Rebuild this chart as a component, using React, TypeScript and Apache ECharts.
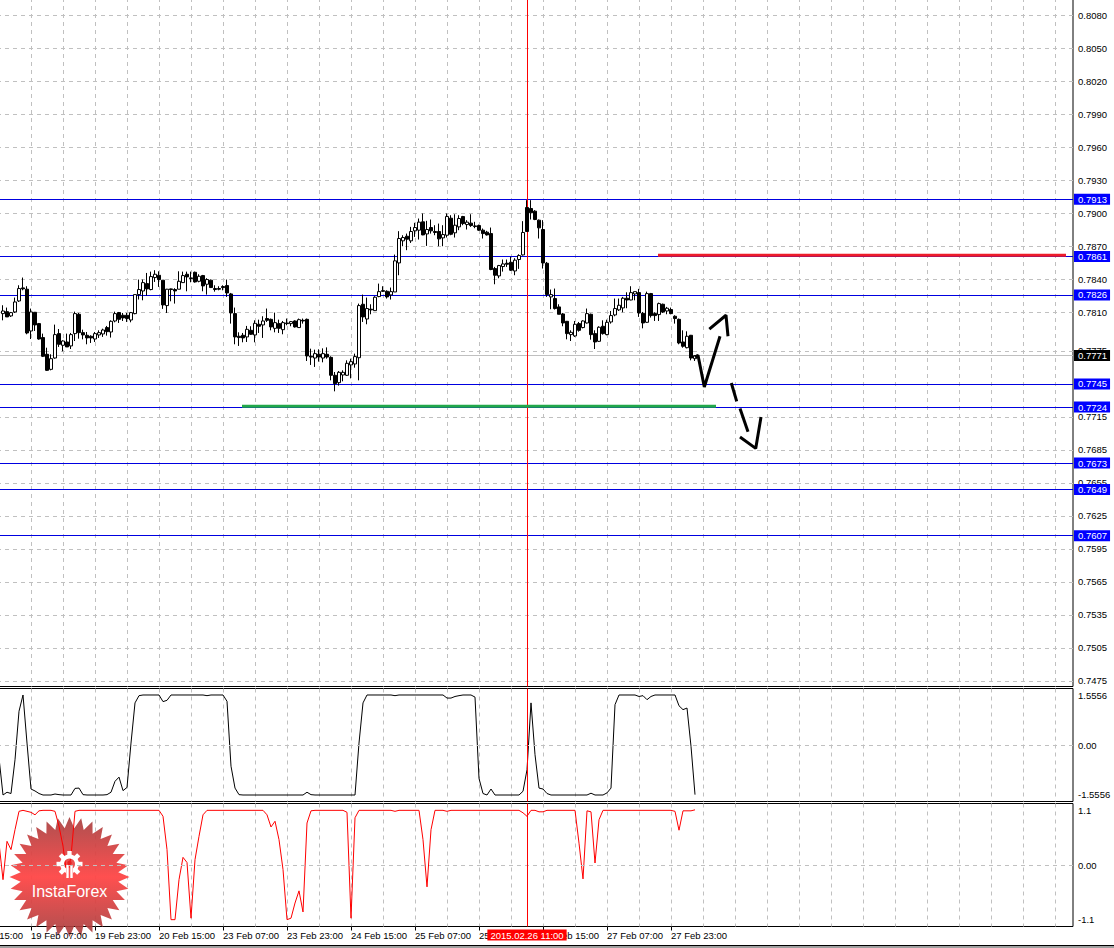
import React, { useEffect, useRef } from "react";
import * as echarts from "echarts";

// candles: [open, close, low, high], one per hourly bar
const barsA = [
  [.7809,.78114,.78029,.78166],[.78108,.7806,.7806,.78145],[.78069,.78099,.7806,.78105],[.78105,.78196,.78096,.78236],
  [.78205,.78318,.78196,.78348],[.78324,.78315,.78302,.78418],[.78312,.77914,.77902,.78339],[.77932,.78105,.77859,.78136],
  [.78102,.77987,.77932,.78105],[.77999,.77859,.77853,.78005],[.77872,.77702,.77695,.77908],[.7772,.77574,.77568,.7778],
  [.77583,.7768,.77574,.7772],[.77686,.77899,.7768,.7799],[.77908,.77811,.77787,.7795],[.77802,.77841,.77747,.77847],
  [.77832,.77787,.77787,.77908],[.77796,.77899,.77768,.77914],[.77908,.7809,.77841,.78108],[.78084,.77917,.77862,.78096],
  [.77917,.77896,.77856,.77944],[.77893,.77869,.77811,.77923],[.77884,.77869,.77823,.77893],[.77859,.77908,.77832,.77923],
  [.77896,.77917,.77869,.77938],[.77905,.77941,.77878,.77953],[.77963,.77926,.7789,.77978],[.77923,.7802,.77872,.78029],
  [.78023,.7809,.78011,.78108],[.78099,.78038,.78005,.78105],[.78075,.78051,.78023,.78096],[.78075,.78045,.78014,.78096],
  [.78032,.78099,.78011,.78105],[.7809,.78263,.78084,.78263],[.78263,.78309,.78218,.784],[.78296,.78372,.78211,.784],
];
const barsB = [
  [.78363,.78315,.78254,.7846],[.78309,.78427,.78302,.78472],[.78418,.78448,.78378,.78485],[.78439,.784,.78333,.78475],
  [.78394,.78169,.78133,.78394],[.78163,.78312,.78096,.78315],[.78315,.78309,.78202,.78318],[.78309,.78296,.78181,.78321],
  [.78312,.78384,.78312,.78475],[.78372,.78436,.78369,.78472],[.78448,.78424,.78293,.78472],[.78415,.78409,.78375,.78472],
  [.78466,.78378,.78372,.78472],[.78384,.7843,.78375,.78448],[.78436,.78342,.78293,.78442],[.78357,.784,.78263,.78412],
  [.78394,.78327,.78324,.784],[.78318,.78309,.7829,.78348],[.78318,.78312,.78302,.78339],[.78336,.78327,.78302,.78348],
  [.78345,.78278,.78242,.784],[.78269,.78096,.77999,.78278],[.7809,.77878,.77811,.78145],[.77884,.77872,.77796,.7792],
  [.77893,.77869,.77829,.77914],[.77878,.77947,.77832,.77978],[.77938,.77902,.77896,.77975],[.77896,.78002,.77829,.78029],
  [.77993,.77975,.77914,.78035],[.77987,.78023,.77869,.78066],[.78045,.78029,.78014,.78136],[.78038,.77969,.77938,.78045],
  [.77956,.78008,.7792,.78099],[.77999,.77956,.77914,.78035],[.77944,.78008,.77902,.78023],[.78005,.77999,.77984,.78045],
];
const barsC = [
  [.77999,.78017,.77975,.78023],[.78023,.77969,.77963,.78029],[.77963,.78035,.7796,.78045],[.78029,.78023,.77999,.78045],
  [.78038,.77705,.77659,.78045],[.77702,.77695,.77623,.77771],[.77686,.77726,.77605,.77762],[.7772,.77695,.77653,.77765],
  [.77686,.77726,.77647,.77774],[.7772,.77695,.7768,.77783],[.77692,.77529,.77483,.77702],[.77529,.77453,.77383,.77559],
  [.77462,.77556,.77435,.77568],[.77532,.77556,.77474,.77574],[.77529,.77638,.77523,.77665],[.77623,.77653,.77501,.7768],
  [.77632,.77699,.77598,.77726],[.77689,.78163,.77483,.78181],[.78175,.7806,.78014,.78263],[.78041,.78136,.77993,.78236],
  [.7813,.78124,.78084,.78175],[.78117,.78239,.78114,.78248],[.78245,.7829,.78239,.78363],[.78299,.78293,.78287,.78339],
  [.78293,.78242,.78227,.78302],[.7826,.7829,.78218,.78327],[.78287,.7857,.78287,.78627],[.78551,.78773,.78439,.7884],
  [.78752,.78782,.78703,.78803],[.78794,.78767,.78667,.78818],[.78752,.78837,.78733,.78879],[.78843,.78873,.78788,.78916],
  [.78849,.78922,.78764,.78955],[.78925,.78806,.78803,.79001],[.78815,.78855,.78706,.78934],[.78873,.78843,.78818,.78946],
];
const barsD = [
  [.78837,.78828,.78803,.78894],[.78837,.7877,.78703,.78909],[.78779,.78809,.78703,.78894],[.78803,.78973,.78782,.79001],
  [.78958,.78812,.78803,.78985],[.78825,.78894,.78782,.78994],[.78879,.78955,.78849,.78985],[.78973,.78909,.78894,.78979],
  [.789,.78922,.78855,.7894],[.78913,.78891,.78879,.78994],[.78888,.78882,.78867,.78925],[.78891,.78849,.78843,.789],
  [.78849,.78818,.78773,.78864],[.78831,.78806,.788,.78843],[.78818,.78491,.78485,.78873],[.785,.78439,.78357,.78515],
  [.78433,.78527,.78412,.78533],[.78518,.78542,.78472,.78582],[.78548,.78539,.78515,.78582],[.78557,.78485,.78478,.78606],
  [.78478,.78576,.78439,.78594],[.78582,.78618,.78497,.7863],[.78624,.78828,.78618,.78931],[.79055,.78837,.78834,.79122],
  [.79046,.79007,.78946,.79122],[.79022,.78946,.7894,.79031],[.7894,.7887,.78773,.78946],[.78855,.78551,.785,.7894],
  [.78548,.78263,.78242,.7856],[.78242,.78263,.7813,.78309],[.78227,.78136,.78127,.78318],[.78151,.78084,.78084,.78175],
  [.78087,.78005,.77975,.78096],[.7802,.77908,.77856,.78023],[.77899,.7792,.77841,.77938],[.77887,.77993,.77878,.78023],
];
const barsE = [
  [.77999,.77938,.77926,.78014],[.77963,.78023,.77956,.78029],[.78005,.7809,.77999,.78136],[.78084,.77899,.77853,.7809],
  [.77908,.77832,.77768,.77938],[.77838,.77966,.77832,.77975],[.77975,.77908,.77899,.78029],[.77899,.78011,.77893,.78035],
  [.78014,.78072,.77999,.78114],[.78078,.78136,.78066,.78227],[.78124,.78166,.78114,.78227],[.78142,.7823,.78102,.78242],
  [.7823,.78214,.78139,.78284],[.78214,.78281,.78211,.78339],[.78269,.7829,.78211,.7829],[.78281,.78096,.7806,.78315],
  [.78093,.78005,.77956,.78105],[.78011,.78272,.78005,.7829],[.78272,.78072,.78054,.78278],[.7809,.78072,.78023,.78102],
  [.78081,.78181,.78023,.7819],[.78175,.78105,.78096,.78181],[.78114,.78139,.78084,.78151],[.78127,.7809,.78084,.78145],
  [.78066,.78045,.77999,.78075],[.78038,.77823,.77811,.78045],[.77832,.77793,.7778,.77938],[.7778,.77884,.77774,.77929],
  [.77893,.77686,.77665,.77896],[.7768,.77708,.77659,.77711],
];

const upper1 = [-0.4,-1.556,-1.47,-1.51,-0.46,1.05,1.556,0.06,-1.37,-1.43,-1.51,-1.556,-1.556,-1.556,-1.525,-1.545];
const upper2 = [-1.556,-1.556,-1.556,-1.35,-1.34,-1.545,-1.556,-1.556,-1.556,-1.556,-1.556,-1.545,-1.47,-1.13,-1.0,-1.42];
const upper3 = [-1.32,0.06,1.31,1.535,1.556,1.556,1.556,1.556,1.556,1.35,1.39,1.556,1.556,1.556,1.556,1.556];
const upper4 = [1.556,1.556,1.556,1.556,1.535,1.556,1.556,1.556,1.556,1.36,-0.66,-1.34,-1.545,-1.556,-1.556,-1.556];
const upper5 = [-1.556,-1.556,-1.556,-1.556,-1.556,-1.556,-1.556,-1.556,-1.556,-1.556,-1.556,-1.556,-1.556,-1.47,-1.545,-1.556];
const upper6 = [-1.556,-1.556,-1.556,-1.556,-1.556,-1.556,-1.556,-1.556,-1.556,-1.556,0.06,1.31,1.556,1.556,1.556,1.556];
const upper7 = [1.556,1.556,1.556,1.535,1.556,1.556,1.556,1.556,1.556,1.556,1.556,1.556,1.556,1.556,1.556,1.556];
const upper8 = [1.46,1.46,1.51,1.535,1.556,1.556,1.556,1.49,-1.04,-1.51,-1.556,-1.37,-1.556,-1.556,-1.556,-1.556];
const upper9 = [-1.556,-1.556,-1.556,-1.44,-0.77,1.31,-0.3,-1.34,-1.37,-1.51,-1.556,-1.556,-1.556,-1.556,-1.556,-1.556];
const upper10 = [-1.556,-1.556,-1.556,-1.556,-1.5,-1.556,-1.556,-1.556,-1.49,-1.34,1.255,1.556,1.556,1.556,1.556,1.556];
const upper11 = [1.51,1.535,1.41,1.51,1.556,1.556,1.556,1.556,1.556,1.556,1.22,1.1,1.15,-0.04,-1.545];

const lower1 = [0.44,-0.295,0.476,0.31,0.71,1.08,1.1,1.08,1.06,1.01,1.09,1.1,1.1,1.1,1.08,0.78];
const lower2 = [0.38,-0.23,0.17,1.08,1.1,1.1,1.1,1.1,1.1,1.1,1.1,1.1,1.1,1.1,1.1,1.1];
const lower3 = [1.1,1.1,1.1,1.1,1.1,1.1,1.1,1.1,1.1,0.98,0.31,-1.1,-1.1,-0.295,0.154,0.05];
const lower4 = [-1.07,0.107,0.577,1.01,1.1,1.1,1.1,1.1,1.1,1.1,1.1,1.1,1.1,1.1,1.1,1.1];
const lower5 = [1.1,1.1,1.1,1.01,0.765,0.88,0.51,-0.09,-1.1,-1.07,-0.765,-0.52,-0.945,0.845,1.09,1.1];
const lower6 = [1.1,1.1,1.1,1.1,1.1,1.1,1.1,1.06,-1.07,0.95,1.1,1.1,1.1,1.1,1.1,1.1];
const lower7 = [1.1,1.1,1.1,1.08,1.1,1.1,1.1,1.1,1.1,1.1,0.51,-0.44,0.71,1.1,1.1,1.1];
const lower8 = [1.08,1.1,1.1,1.1,1.1,1.1,1.1,1.1,1.1,1.1,1.1,1.1,1.1,1.1,1.1,1.1];
const lower9 = [1.1,1.1,1.1,1.05,0.98,1.1,1.1,1.07,1.07,1.1,1.1,1.1,1.1,1.1,1.1,1.1];
const lower10 = [1.1,0.44,-0.28,1.09,1.07,0.04,0.91,1.1,1.1,1.1,1.1,1.1,1.1,1.1,1.1,1.1];
const lower11 = [1.1,1.1,1.1,1.1,1.1,1.1,1.1,1.1,1.1,1.08,0.7,1.09,1.09,1.09,1.11];

const priceTicks = [0.808,0.805,0.802,0.799,0.796,0.793,0.79,0.787,0.784,0.781,0.7775,0.7745,0.7715,0.7685,0.7655,0.7625,0.7595,0.7565,0.7535,0.7505,0.7475];
const upperTicks = [-1.5556,0,1.5556];
const lowerTicks = [-1.1,0,1.1];
const blueLevels = [0.7913,0.7861,0.7826,0.7745,0.7724,0.7673,0.7649,0.7607];
const timeLabels = ["18 Feb 15:00","19 Feb 07:00","19 Feb 23:00","20 Feb 15:00","23 Feb 07:00","23 Feb 23:00","24 Feb 15:00","25 Feb 07:00","25 Feb 23:00","26 Feb 15:00","27 Feb 07:00","27 Feb 23:00"];
const gridBars = [0,8,16,24,32,40,48,56,64,72,80,88,96,104,112,120,128,136,144,152,160,168,176,184,192,200,208,216,224,232,240,248,256,264,272];
const labelBars = [0,16,32,48,64,80,96,112,128,144,160,176];

const lastPrice = 0.7771;
const crosshairBar = 140;
const crosshairLabel = "2015.02.26 11:00";
const redSegment = [[172.75,0.7862],[274.75,0.7862]];
const greenSegment = [[68.75,0.77247],[187.25,0.77247]];
const arrowA = [[182,0.77693],[182.75,0.77711],[184.33,0.77422],[188.25,0.77884]];
const arrowB = [[185.58,0.77948],[189.75,0.78075],[190.25,0.77884]];
const dashA = [[191.08,0.77459],[192.43,0.77292]];
const dashB = [[193.25,0.77226],[195.25,0.77016]];
const arrowC = [[193.25,0.76967],[197.18,0.76864],[198.5,0.77149]];

const FONT = "Liberation Sans";
const GRID_GREY = "#c0c0c0";
const DASH = [4, 4];

function makeGraphics() {
  const cx = 69.5, cy = 877, spikes = 32;
  const pts: number[][] = [];
  for (let i = 0; i < spikes * 2; i++) {
    const r = i % 2 === 0 ? 60 : 49;
    const a = (Math.PI * i) / spikes - Math.PI / 2;
    pts.push([cx + r * Math.cos(a), cy + r * Math.sin(a)]);
  }
  const gx = 69.5, gy = 864;
  const teeth: any[] = [];
  for (let i = 0; i < 8; i++) {
    if (i === 4) continue;
    teeth.push({
      type: "rect", x: gx, y: gy, originX: 0, originY: 0, rotation: (-i * Math.PI) / 4,
      shape: { x: -2.2, y: -13, width: 4.4, height: 5 }, style: { fill: "#fff" }, z: 6,
    });
  }
  return [
    {
      type: "polygon", z: 1, silent: true,
      shape: { points: pts },
      style: {
        fill: { type: "linear", x: 0, y: 0, x2: 0, y2: 1, colorStops: [
          { offset: 0, color: "rgba(165,60,60,0.9)" },
          { offset: 0.5, color: "rgba(255,70,70,0.95)" },
          { offset: 1, color: "rgba(165,60,60,0.9)" },
        ] },
      },
    },
    { type: "ring", z: 6, shape: { cx: gx, cy: gy, r: 9.5, r0: 5.5 }, style: { fill: "#fff" } },
    { type: "rect", z: 6, shape: { x: gx - 3.5, y: gy + 4, width: 7, height: 6 }, style: { fill: "#ff5050" } },
    { type: "circle", z: 7, shape: { cx: gx, cy: gy - 1, r: 2.2 }, style: { fill: "#e82020" } },
    { type: "rect", z: 7, shape: { x: gx - 3.2, y: gy + 1, width: 2.4, height: 13 }, style: { fill: "#fff" } },
    { type: "rect", z: 7, shape: { x: gx + 0.8, y: gy + 1, width: 2.4, height: 13 }, style: { fill: "#fff" } },
    ...teeth,
    { type: "text", z: 7, x: 69.5, y: 891, style: { text: "InstaForex", fill: "#fff", font: `16px "${FONT}"`, align: "center", verticalAlign: "middle" } },
    { type: "rect", z: 8, shape: { x: 0, y: 946, width: 1114, height: 2 }, style: { fill: "#a0a0a0" } },
    { type: "line", z: 8, shape: { x1: 0, y1: 945.5, x2: 1114, y2: 945.5 }, style: { stroke: "#000", lineWidth: 1 } },
  ];
}

function guideX(gridIndex: number) {
  return {
    type: "value", gridIndex, min: -0.5, max: 276.5, position: "bottom",
    axisLine: { show: false }, axisLabel: { show: false },
    axisTick: { show: false, customValues: gridBars },
    splitLine: { show: true, lineStyle: { color: GRID_GREY, type: DASH } },
  };
}

function sideY(gridIndex: number, min: number, max: number, ticks: number[], fmt: (v: number) => string, split: boolean) {
  return {
    type: "value", gridIndex, min, max, position: "right", scale: false,
    axisLine: { show: false },
    axisTick: { show: true, length: 3, inside: false, customValues: ticks, lineStyle: { color: "#000" } },
    axisLabel: { show: true, margin: 5, customValues: ticks, formatter: fmt, color: "#000", fontFamily: FONT, fontSize: 9.5 },
    splitLine: { show: split, lineStyle: { color: GRID_GREY, type: DASH } },
  };
}

const zeroLine = {
  silent: true, symbol: "none", label: { show: false }, animation: false, precision: 5,
  lineStyle: { color: GRID_GREY, type: DASH, width: 1 },
};

export default function App() {
  const ref = useRef<HTMLDivElement>(null);
  useEffect(() => {
    const chart = echarts.init(ref.current!, null, { renderer: "svg" });
    const candles = [...barsA, ...barsB, ...barsC, ...barsD, ...barsE].map((b, i) => [9 + i, ...b]);
    const upper = [...upper1, ...upper2, ...upper3, ...upper4, ...upper5, ...upper6, ...upper7, ...upper8, ...upper9, ...upper10, ...upper11].map((v, i) => [8 + i, v]);
    const lower = [...lower1, ...lower2, ...lower3, ...lower4, ...lower5, ...lower6, ...lower7, ...lower8, ...lower9, ...lower10, ...lower11].map((v, i) => [8 + i, v]);

    const levelLabel = (bg: string) => ({
      show: true, position: "end", distance: 1, formatter: (p: any) => Number(p.value).toFixed(4),
      color: "#fff", backgroundColor: bg, fontFamily: FONT, fontSize: 9.5, padding: [1, 3, 0, 4], lineHeight: 10,
    });
    const crossItem = { xAxis: crosshairBar, lineStyle: { color: "#ff0000", width: 1, type: "solid" }, label: { show: false } };
    const stroke = (data: number[][], color: string, width: number) => ({
      type: "line", xAxisIndex: 0, yAxisIndex: 0, data, showSymbol: false, symbol: "none", z: 4,
      lineStyle: { color, width }, silent: true,
    });
    const pane = { left: -35, width: 1108, show: true, borderColor: "#000", borderWidth: 1, backgroundColor: "transparent", outerBoundsMode: "none" };

    chart.setOption({
      animation: false,
      backgroundColor: "#fff",
      tooltip: { show: false },
      grid: [
        { ...pane, top: -2, height: 688.5 },
        { ...pane, top: 688.5, height: 113 },
        { ...pane, top: 803.5, height: 123 },
      ],
      xAxis: [
        guideX(0), guideX(1), guideX(2),
        {
          type: "value", gridIndex: 2, min: -0.5, max: 276.5, position: "bottom", z: 3,
          axisLine: { show: false }, splitLine: { show: false },
          axisTick: { show: true, length: 4, customValues: labelBars, lineStyle: { color: "#000" } },
          axisLabel: {
            show: true, customValues: labelBars, align: "left", margin: 4, color: "#000", fontFamily: FONT, fontSize: 9.5,
            formatter: (v: number) => timeLabels[labelBars.indexOf(v)] ?? "",
          },
        },
      ],
      yAxis: [
        sideY(0, 0.74698, 0.80961, priceTicks, (v) => v.toFixed(4), true),
        sideY(1, -1.758, 1.758, upperTicks, (v) => (v === 0 ? "0.00" : String(v)), false),
        sideY(2, -1.2374, 1.2374, lowerTicks, (v) => (v === 0 ? "0.00" : String(v)), false),
      ],
      graphic: makeGraphics(),
      series: [
        {
          type: "candlestick", xAxisIndex: 0, yAxisIndex: 0, data: candles, barWidth: 3, z: 3,
          itemStyle: { color: "#fff", color0: "#000", borderColor: "#000", borderColor0: "#000", borderWidth: 1 },
          silent: true,
          markLine: {
            silent: true, symbol: "none", animation: false, z: 2, precision: 5,
            data: [
              ...blueLevels.map((v) => ({ yAxis: v, lineStyle: { color: "#0000e0", width: 1, type: "solid" }, label: levelLabel("#0000ff") })),
              { yAxis: lastPrice, lineStyle: { color: GRID_GREY, width: 1, type: "solid" }, label: levelLabel("#000000") },
              crossItem,
            ],
          },
        },
        stroke(redSegment, "#ee1c2a", 3),
        stroke(greenSegment, "#22a84a", 3),
        stroke(arrowA, "#000", 3),
        stroke(arrowB, "#000", 3),
        stroke(dashA, "#000", 3),
        stroke(dashB, "#000", 3),
        stroke(arrowC, "#000", 3),
        {
          type: "line", xAxisIndex: 1, yAxisIndex: 1, data: upper, showSymbol: false, symbol: "none", z: 3,
          lineStyle: { color: "#000", width: 1 }, silent: true,
          markLine: { ...zeroLine, data: [{ yAxis: 0 }, crossItem] },
        },
        {
          type: "line", xAxisIndex: 2, yAxisIndex: 2, data: lower, showSymbol: false, symbol: "none", z: 3,
          lineStyle: { color: "#ff0000", width: 1 }, silent: true,
          markLine: {
            ...zeroLine, z: 9,
            data: [
              { yAxis: 0 },
              {
                ...crossItem,
                label: {
                  show: true, position: "start", distance: 3, formatter: crosshairLabel, color: "#fff", backgroundColor: "#ff0000",
                  fontFamily: FONT, fontSize: 9.5, padding: [1, 3, 0, 3], lineHeight: 10,
                },
              },
            ],
          },
        },
      ],
    });
    return () => chart.dispose();
  }, []);
  return <div ref={ref} style={{ position: "absolute", left: 0, top: 0, width: 1114, height: 948 }} />;
}
